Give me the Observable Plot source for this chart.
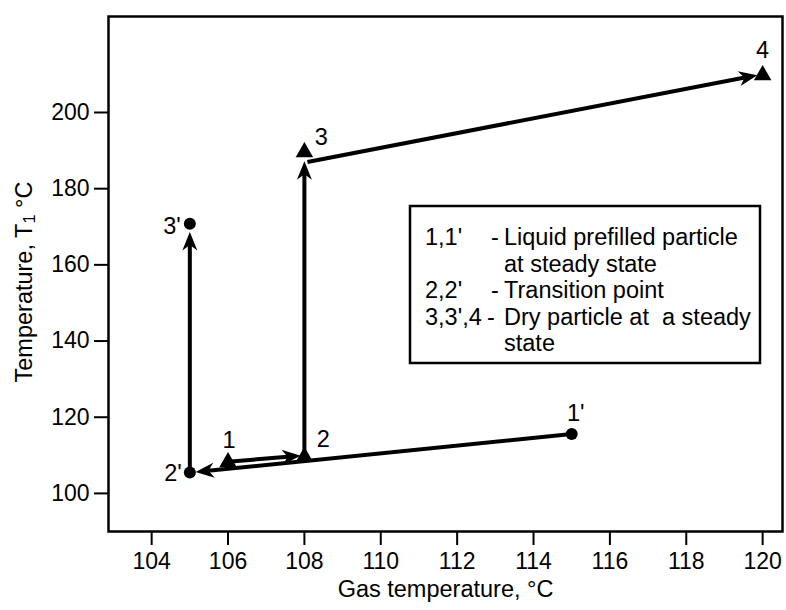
<!DOCTYPE html>
<html>
<head>
<meta charset="utf-8">
<script src="https://cdn.jsdelivr.net/npm/d3@7"></script>
<script src="https://cdn.jsdelivr.net/npm/@observablehq/plot@0.6"></script>
<style>
  html, body { margin: 0; padding: 0; background: #fff; }
  #chart svg { display: block; }
</style>
</head>
<body>
<div id="chart"></div>
<script>
// ---------- data ----------
const pointLabels = ["1", "2", "3", "4", "1'", "2'", "3'"];
const pointGasTemp = [106, 108, 108, 120, 115, 105, 105];
const pointParticleTemp = [108.2, 109.6, 189.6, 209.8, 115.6, 105.5, 170.8];
const pointKind = ["triangle", "triangle", "triangle", "triangle", "circle", "circle", "circle"];

// arrows: from (gas, T) -> to (gas, T)
const arrowFromGas = [106, 115, 108, 105, 108.08];
const arrowFromTemp = [108.3, 115.6, 109.6, 105.5, 187];
const arrowToGas = [107.9, 105.15, 108, 105, 119.86];
const arrowToTemp = [109.9, 105.6, 187.2, 168.6, 209.8];

const xTicks = [104, 106, 108, 110, 112, 114, 116, 118, 120];
const yTicks = [100, 120, 140, 160, 180, 200];

const legendKeys = ["1,1'", "", "2,2'", "3,3',4", ""];
const legendDesc = ["Liquid prefilled particle", "at steady state", "Transition point", "Dry particle at  a steady", "state"];

// ---------- layout / style ----------
const FONT = "'Liberation Sans', Arial, Helvetica, sans-serif";
const FS_TICK = 23;
const FS = 23.5;
const labelOffset = {
  "1": {dx: 1, dy: -22, anchor: "middle"},
  "2": {dx: 19, dy: -17, anchor: "middle"},
  "3": {dx: 17, dy: -15, anchor: "middle"},
  "4": {dx: 0, dy: -25, anchor: "middle"},
  "1'": {dx: 4, dy: -21, anchor: "middle"},
  "2'": {dx: -8, dy: 1, anchor: "end"},
  "3'": {dx: -9, dy: 3, anchor: "end"}
};

const points = pointLabels.map((l, i) => ({
  label: l, x: pointGasTemp[i], y: pointParticleTemp[i], kind: pointKind[i]
}));
const arrows = arrowFromGas.map((d, i) => ({
  x1: d, y1: arrowFromTemp[i], x2: arrowToGas[i], y2: arrowToTemp[i]
}));

function arrowheads(index, scales, values, dimensions, context, next) {
  const g = next(index, scales, values, dimensions, context);
  const X1 = values.x1, Y1 = values.y1, X2 = values.x2, Y2 = values.y2;
  const L = 18.5, W = 7.5, N = 13;
  for (const i of index) {
    const dx = X2[i] - X1[i], dy = Y2[i] - Y1[i];
    const len = Math.hypot(dx, dy);
    const ux = dx / len, uy = dy / len, px = -uy, py = ux;
    const tx = X2[i], ty = Y2[i];
    const bx = tx - ux * L, by = ty - uy * L;
    const nx = tx - ux * N, ny = ty - uy * N;
    const p = document.createElementNS("http://www.w3.org/2000/svg", "path");
    p.setAttribute("d", `M${tx},${ty}L${bx + px * W},${by + py * W}L${nx},${ny}L${bx - px * W},${by - py * W}Z`);
    p.setAttribute("fill", "black");
    p.setAttribute("stroke", "none");
    g.appendChild(p);
  }
  return g;
}

const tri = points.filter(d => d.kind === "triangle");
const cir = points.filter(d => d.kind === "circle");

const labelMarks = points.map(p => {
  const o = labelOffset[p.label];
  return Plot.text([p], {x: "x", y: "y", text: "label", dx: o.dx, dy: o.dy, textAnchor: o.anchor, fontSize: FS, fill: "black"});
});

const chart = Plot.plot({
  width: 786,
  height: 610,
  marginLeft: 108,
  marginRight: 4,
  marginTop: 16,
  marginBottom: 79,
  style: {fontFamily: FONT, fontSize: FS + "px", color: "black", background: "white"},
  x: {domain: [102.87, 120.52]},
  y: {domain: [90.0, 225.2]},
  marks: [
    Plot.axisX({ticks: xTicks, tickSize: 14, tickPadding: 7, strokeWidth: 2, fontSize: FS_TICK, label: null, tickFormat: d => d}),
    Plot.axisY({ticks: yTicks, tickSize: 14, tickPadding: 5, strokeWidth: 2, fontSize: FS_TICK, label: null, tickFormat: d => d}),
    Plot.frame({stroke: "black", strokeWidth: 2.5}),
    Plot.arrow(arrows, {
      x1: "x1", y1: "y1", x2: "x2", y2: "y2",
      stroke: "black", strokeWidth: 4, headLength: 0, insetEnd: 10,
      strokeLinecap: "butt", strokeLinejoin: "miter",
      render: arrowheads
    }),
    Plot.dot(tri, {x: "x", y: "y", symbol: "triangle", r: 6.5, fill: "black", stroke: "none"}),
    Plot.dot(cir, {x: "x", y: "y", symbol: "circle", r: 6, fill: "black", stroke: "none"}),
    ...labelMarks,
    Plot.text(["Gas temperature, °C"], {frameAnchor: "bottom", dy: 65, fontSize: FS, fill: "black"})
  ]
});

document.getElementById("chart").appendChild(chart);

const svg = d3.select(chart);
// y-axis title with subscript
const yt = svg.append("text")
  .attr("transform", "translate(24,282) rotate(-90)")
  .attr("text-anchor", "middle")
  .attr("dominant-baseline", "central")
  .attr("font-family", FONT)
  .attr("font-size", FS)
  .attr("fill", "black");
yt.append("tspan").text("Temperature, T");
yt.append("tspan").attr("font-size", FS * 0.7).attr("dy", 5).text("1");
yt.append("tspan").attr("dy", -5).text(" °C");

// legend box
const lg = svg.append("g").attr("font-family", FONT).attr("font-size", FS).attr("fill", "black")
  .attr("text-anchor", "start");
lg.append("rect").attr("x", 410).attr("y", 206).attr("width", 350).attr("height", 157)
  .attr("fill", "white").attr("stroke", "black").attr("stroke-width", 2.5);
legendKeys.forEach((k, i) => {
  const y = 237 + i * 26.5;
  if (k) {
    lg.append("text").attr("x", 425).attr("y", y).attr("dominant-baseline", "central").text(k);
    lg.append("text").attr("x", i === 3 ? 487 : 491).attr("y", y).attr("dominant-baseline", "central").text("-");
  }
  lg.append("text").attr("x", 504).attr("y", y).attr("dominant-baseline", "central").text(legendDesc[i]);
});
</script>
</body>
</html>
